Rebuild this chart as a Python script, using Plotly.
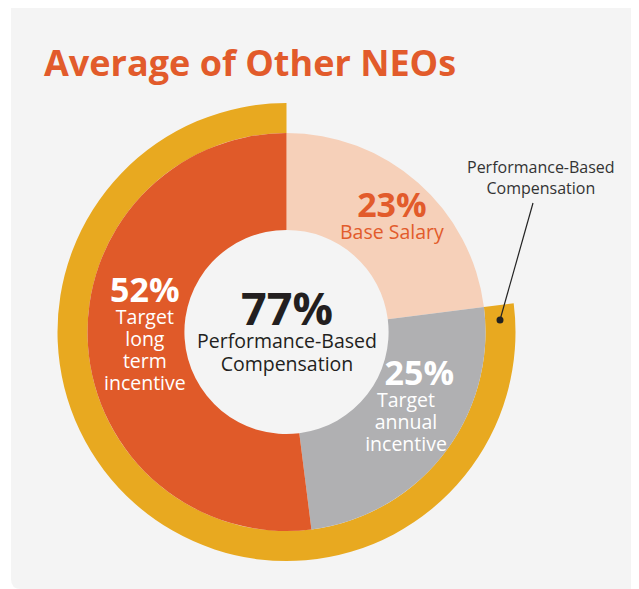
import plotly.graph_objects as go

# Page is rendered with an 8px body margin; work in page pixels and convert.
PAGE_W, PAGE_H = 639, 589
OFF = 8
W, H = PAGE_W - OFF, PAGE_H - OFF

# Data
inner_labels = ["Base Salary", "Target annual incentive", "Target long term incentive"]
inner_values = [23, 25, 52]
inner_colors = ["#F6D0B9", "#B0B0B2", "#E05A29"]

outer_labels = ["Base Salary (not performance-based)", "Performance-Based Compensation"]
outer_values = [23, 77]
outer_colors = ["rgba(0,0,0,0)", "#E8A920"]

title_text = "Average of Other NEOs"
center_pct = "77%"
center_lines = ["Performance-Based", "Compensation"]
base_lines = ["Base Salary"]
long_lines = ["Target", "long", "term", "incentive"]
annual_lines = ["Target", "annual", "incentive"]
callout_lines = ["Performance-Based", "Compensation"]

FONT = "Open Sans"

def px_to_paper(x, y):
    return (x - OFF) / W, 1 - (y - OFF) / H

def domain(cx, cy, r):
    x0, y1 = px_to_paper(cx - r, cy - r)
    x1, y0 = px_to_paper(cx + r, cy + r)
    return dict(x=[x0, x1], y=[y0, y1])

cx, cy = 286.5, 332
R_outer, R_inner = 229, 199

fig = go.Figure()
fig.add_trace(go.Pie(
    values=outer_values, labels=outer_labels, sort=False, direction="clockwise",
    rotation=0, hole=R_inner / R_outer, marker=dict(colors=outer_colors, line=dict(width=0)),
    textinfo="none", hoverinfo="label+value", domain=domain(cx, cy, R_outer), showlegend=False,
))
fig.add_trace(go.Pie(
    values=inner_values, labels=inner_labels, sort=False, direction="clockwise",
    rotation=0, hole=0.513, marker=dict(colors=inner_colors, line=dict(width=0)),
    textinfo="none", hoverinfo="label+value", domain=domain(cx, cy, R_inner), showlegend=False,
))

ann = []
def add_text(x, y, text, size, color, anchor="center"):
    xp, yp = px_to_paper(x, y)
    ann.append(dict(x=xp, y=yp, xref="paper", yref="paper", text=text, showarrow=False,
                    xanchor=anchor, yanchor="middle",
                    font=dict(family=FONT, size=size, color=color)))

def block(pct, lines, pct_size, lbl_size, pad=""):
    head = f"<span style='font-size:{pct_size}px'><b>{pad}{pct}</b></span>"
    rest = [f"<span style='font-size:{lbl_size}px'>{l}</span>" for l in lines]
    return "<br>".join([head] + rest)

LBL = 19.5

# Title
add_text(42, 62, f"<b>{title_text}</b>", 36, "#E25B2B", anchor="left")

# Base salary (line spacing 1.3 * base font ~ 22px)
add_text(392, 213, block(f"{inner_values[0]}%", base_lines, 34, LBL), 17, "#E25B2B")

# Long term
add_text(145, 331, block(f"{inner_values[2]}%", long_lines, 34, LBL), 17, "#FFFFFF")

# Annual (percent sits a bit right of its label lines)
add_text(406, 403, block(f"{inner_values[1]}%", annual_lines, 34, LBL,
                         pad="&nbsp;&nbsp;&nbsp;"), 17, "#FFFFFF")

# Center
add_text(287, 327, block(center_pct, center_lines, 45, LBL), 17.5, "#231F20")

# Callout label
add_text(541, 177, "<br>".join(callout_lines), 16, "#333333")

# Background rounded card (page px -> figure px)
x0, y0, x1, y1 = 11 - OFF, 6 - OFF, PAGE_W - OFF, PAGE_H - OFF
r_tr, r_bl = 18, 10
path = (f"M {x0},{y0} L {x1 - r_tr},{y0} Q {x1},{y0} {x1},{y0 + r_tr} L {x1},{y1} "
        f"L {x0 + r_bl},{y1} Q {x0},{y1} {x0},{y1 - r_bl} Z")
shapes = [dict(type="path", xref="x", yref="y", path=path,
               fillcolor="#F4F4F4", line=dict(width=0), layer="below")]

# callout line + dot
lx0, ly0 = px_to_paper(533, 203)
lx1, ly1 = px_to_paper(500, 320)
shapes.append(dict(type="line", xref="paper", yref="paper", x0=lx0, y0=ly0, x1=lx1, y1=ly1,
                   line=dict(color="#222222", width=1.2)))
dr = 3.5
dx0, dy0 = px_to_paper(500 - dr, 320 - dr)
dx1, dy1 = px_to_paper(500 + dr, 320 + dr)
shapes.append(dict(type="circle", xref="paper", yref="paper", x0=dx0, y0=dy1, x1=dx1, y1=dy0,
                   fillcolor="#222222", line=dict(width=0)))

fig.update_layout(
    annotations=ann,
    shapes=shapes,
    xaxis=dict(range=[0, W], visible=False, domain=[0, 1], fixedrange=True),
    yaxis=dict(range=[H, 0], visible=False, domain=[0, 1], fixedrange=True),
    width=W, height=H, margin=dict(l=0, r=0, t=0, b=0),
    paper_bgcolor="#FFFFFF", plot_bgcolor="rgba(0,0,0,0)",
)

fig.write_html("out.html")
